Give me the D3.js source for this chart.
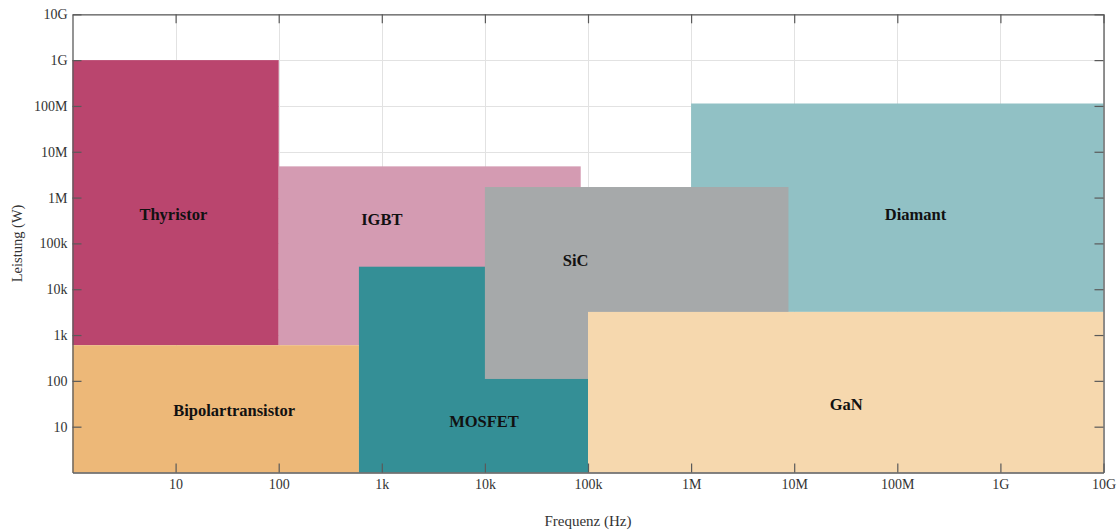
<!DOCTYPE html>
<html>
<head>
<meta charset="utf-8">
<script src="https://cdn.jsdelivr.net/npm/d3@7"></script>
<style>
  html, body { margin: 0; padding: 0; background: #fff; }
  svg { display: block; }
</style>
</head>
<body>
<svg id="chart" width="1119" height="530"></svg>
<script>
// Leistungshalbleiter: Frequenz- und Leistungsbereiche
const devices   = ["Diamant", "Thyristor", "IGBT", "Bipolartransistor", "MOSFET", "SiC", "GaN"];
const freqMin   = [1e6, 1,   100,  1,   600,  1e4,   1e5];
const freqMax   = [1e10, 100, 85e3, 600, 1e5,  8.8e6, 1e10];
const powerMin  = [3.2e3, 600, 600, 1,  1,    110,   1];
const powerMax  = [1.13e8, 1e9, 4.8e6, 600, 3.1e4, 1.7e6, 3.2e3];
const colors    = ["#91c1c5", "#ba456e", "#d49bb2", "#edb878", "#348f96", "#a6a9aa", "#f6d8ae"];
// Beschriftungsanker (Frequenz, Leistung)
const labelFreq  = [1.5e8, 9.5, 1000, 37, 9.8e3, 7.6e4, 3.2e7];
const labelPower = [4.2e5, 4.3e5, 3.3e5, 22, 12.8, 4.3e4, 31];

const freqTicks       = [10, 100, 1e3, 1e4, 1e5, 1e6, 1e7, 1e8, 1e9, 1e10];
const freqTickLabels  = ["10", "100", "1k", "10k", "100k", "1M", "10M", "100M", "1G", "10G"];
const powerTicks      = [10, 100, 1e3, 1e4, 1e5, 1e6, 1e7, 1e8, 1e9, 1e10];
const powerTickLabels = ["10", "100", "1k", "10k", "100k", "1M", "10M", "100M", "1G", "10G"];

const svg = d3.select("#chart");
const plotLeft = 72.5, plotRight = 1103.5, plotTop = 14.3, plotBottom = 472.5;

const x = d3.scaleLog().domain([1, 1e10]).range([plotLeft, plotRight]);
const y = d3.scaleLog().domain([1, 1e10]).range([plotBottom, plotTop]);

const serif = "'Liberation Serif', 'Times New Roman', serif";

// Gitterlinien
const grid = svg.append("g").attr("stroke", "#e2e2e2").attr("stroke-width", 1);
grid.selectAll(".gx").data(freqTicks).join("line")
  .attr("x1", d => Math.round(x(d)) + 0.5).attr("x2", d => Math.round(x(d)) + 0.5)
  .attr("y1", plotTop).attr("y2", plotBottom);
grid.selectAll(".gy").data(powerTicks).join("line")
  .attr("y1", d => Math.round(y(d)) + 0.5).attr("y2", d => Math.round(y(d)) + 0.5)
  .attr("x1", plotLeft).attr("x2", plotRight);

// Bereiche der Bauelemente
const idx = d3.range(devices.length);
svg.append("g").selectAll("rect").data(idx).join("rect")
  .attr("x", i => x(freqMin[i]))
  .attr("y", i => y(powerMax[i]))
  .attr("width", i => x(freqMax[i]) - x(freqMin[i]))
  .attr("height", i => y(powerMin[i]) - y(powerMax[i]))
  .attr("fill", i => colors[i]);

// Beschriftungen
svg.append("g").selectAll("text").data(idx).join("text")
  .attr("x", i => x(labelFreq[i]))
  .attr("y", i => y(labelPower[i]))
  .attr("text-anchor", "middle")
  .attr("dominant-baseline", "central")
  .attr("font-family", serif)
  .attr("font-weight", "bold")
  .attr("font-size", 16.5)
  .attr("fill", "#111")
  .text(i => devices[i]);

// Achsen (innenliegende Striche, Rahmen auf allen Seiten)
const tickLen = 9;
const axisColor = "#5a5a5a";

const xAxisBottom = d3.axisBottom(x).tickValues(freqTicks)
  .tickFormat((d, i) => freqTickLabels[i]).tickSizeInner(-tickLen).tickSizeOuter(0).tickPadding(7);
const gxb = svg.append("g").attr("transform", `translate(0,${plotBottom})`).call(xAxisBottom);

const xAxisTop = d3.axisTop(x).tickValues(freqTicks).tickFormat("")
  .tickSizeInner(-tickLen).tickSizeOuter(0);
const gxt = svg.append("g").attr("transform", `translate(0,${plotTop})`).call(xAxisTop);

const yAxisLeft = d3.axisLeft(y).tickValues(powerTicks)
  .tickFormat((d, i) => powerTickLabels[i]).tickSizeInner(-tickLen).tickSizeOuter(0).tickPadding(5);
const gyl = svg.append("g").attr("transform", `translate(${plotLeft},0)`).call(yAxisLeft);

const yAxisRight = d3.axisRight(y).tickValues(powerTicks).tickFormat("")
  .tickSizeInner(-tickLen).tickSizeOuter(0);
const gyr = svg.append("g").attr("transform", `translate(${plotRight},0)`).call(yAxisRight);

[gxb, gxt, gyl, gyr].forEach(g => {
  g.select(".domain").attr("stroke", axisColor).attr("stroke-width", 1.3);
  g.selectAll(".tick line").attr("stroke", axisColor).attr("stroke-width", 1.2);
  g.selectAll(".tick text")
    .attr("font-family", serif).attr("font-size", 14).attr("fill", "#333");
});

// Achsentitel
svg.append("text")
  .attr("x", (plotLeft + plotRight) / 2).attr("y", 526)
  .attr("text-anchor", "middle")
  .attr("font-family", serif).attr("font-size", 15).attr("fill", "#333")
  .text("Frequenz (Hz)");

svg.append("text")
  .attr("transform", `translate(22,${(plotTop + plotBottom) / 2}) rotate(-90)`)
  .attr("text-anchor", "middle")
  .attr("font-family", serif).attr("font-size", 14.5).attr("fill", "#333")
  .text("Leistung (W)");
</script>
</body>
</html>
